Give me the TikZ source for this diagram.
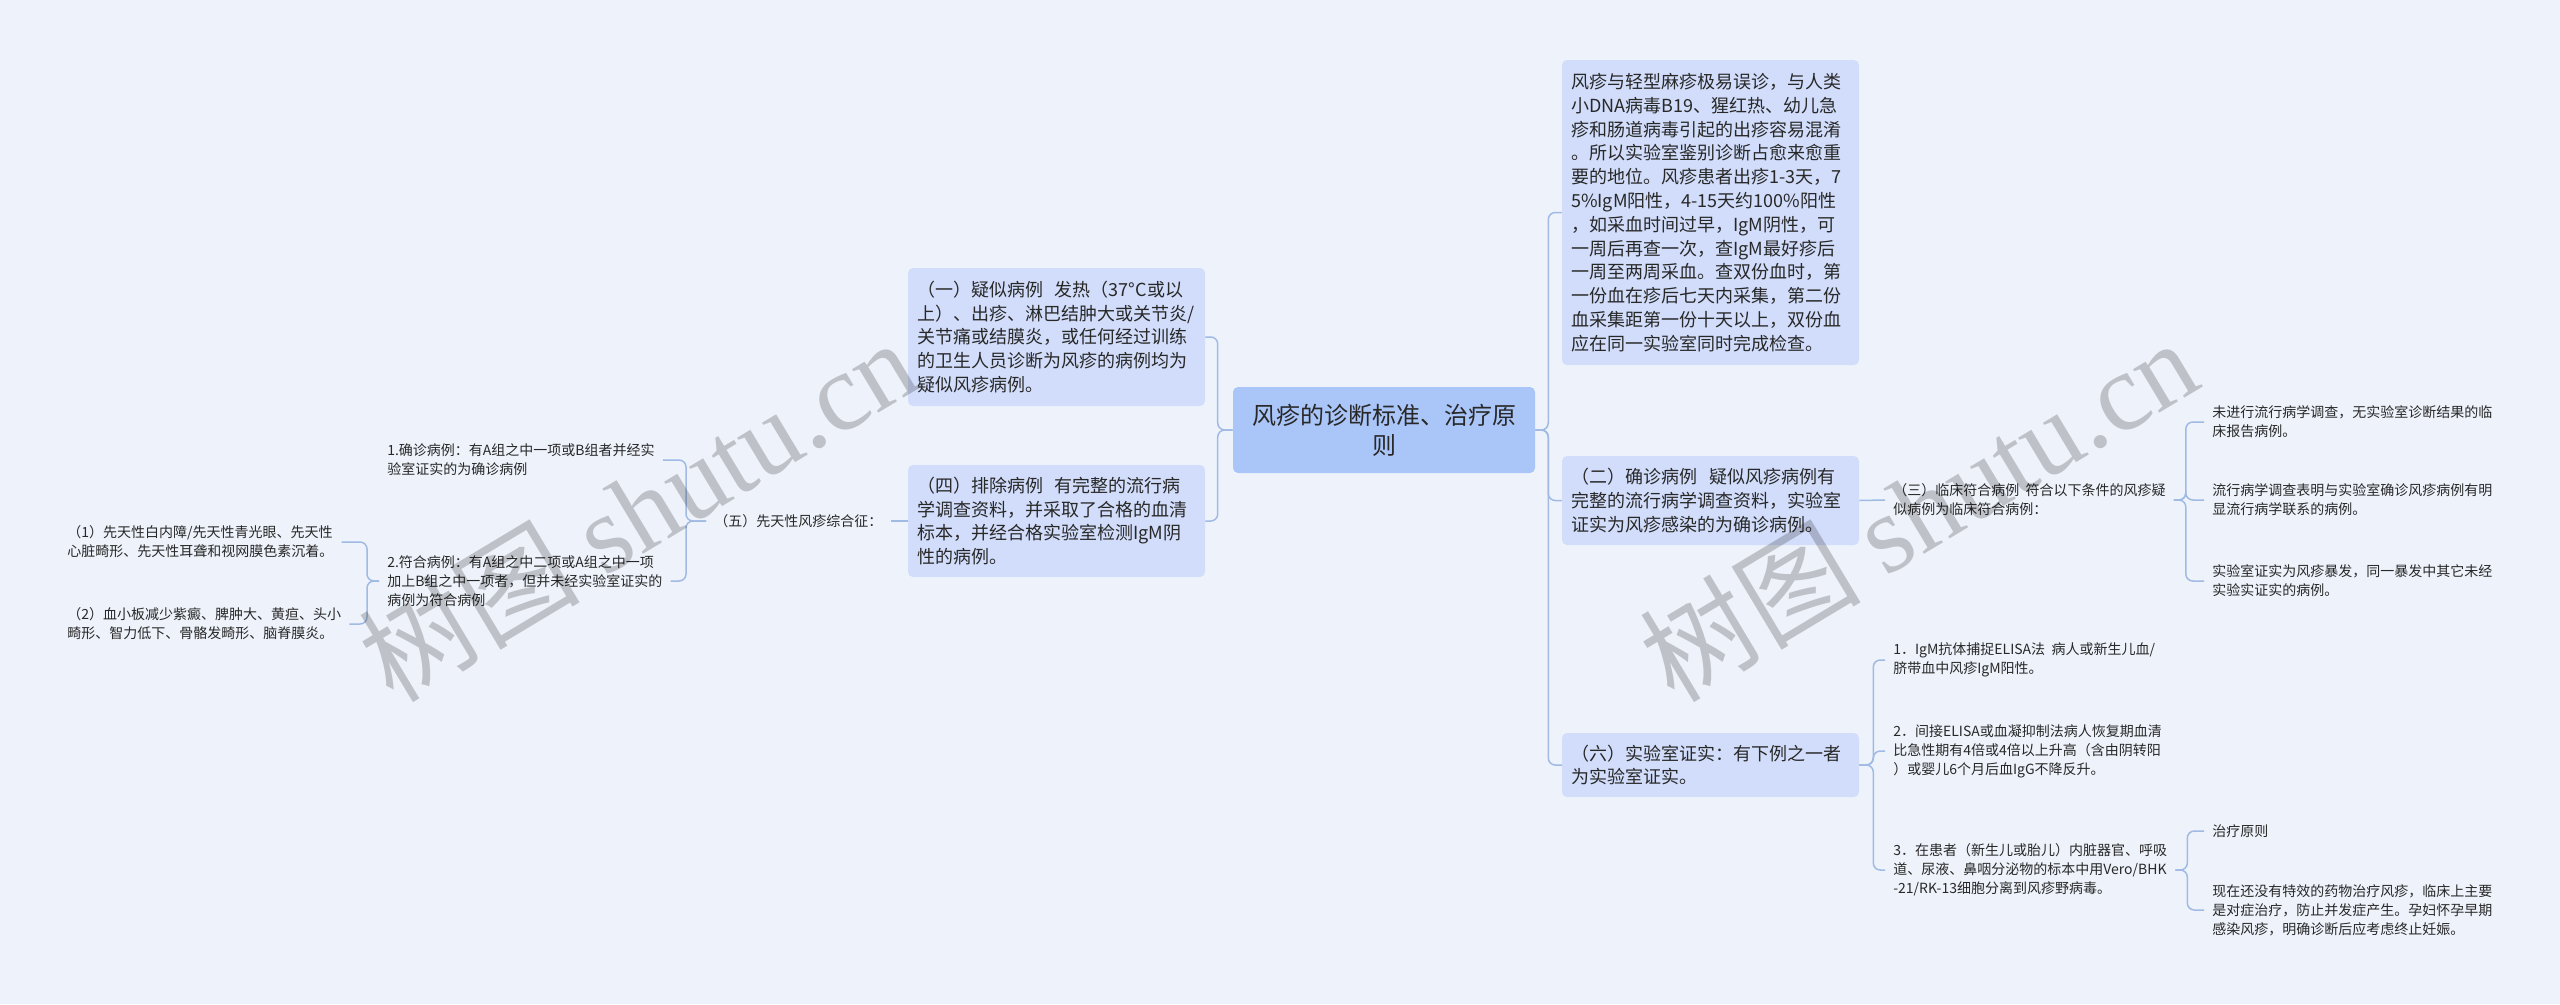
\documentclass[tikz,border=0pt]{standalone}
\usepackage{fontspec}
\setmainfont{Noto Sans CJK SC}
\newfontfamily\wmserif{Liberation Serif}
\newdimen\pxu \pxu=0.75pt
\definecolor{bgc}{RGB}{238,243,251}
\definecolor{rootc}{RGB}{170,197,248}
\definecolor{boxc}{RGB}{209,221,250}
\definecolor{linec}{RGB}{160,186,228}
\definecolor{txtc}{RGB}{40,40,40}
\tikzset{
  conn/.style={draw=linec, line width=1.5\pxu, rounded corners=7\pxu},
  rootbox/.style={fill=rootc, rounded corners=5\pxu, text width=280\pxu, align=center,
    minimum height=86\pxu, inner xsep=11\pxu, inner ysep=0pt,
    font=\fontsize{18pt}{22.5pt}\selectfont, text=txtc},
  bigbox/.style={fill=boxc, rounded corners=5\pxu, text width=279\pxu, align=left,
    inner xsep=9\pxu, inner ysep=0pt, font=\fontsize{13.5pt}{17.85pt}\selectfont, text=txtc},
  small/.style={anchor=west, align=left, inner xsep=8\pxu, inner ysep=2\pxu,
    font=\fontsize{10.5pt}{14.25pt}\selectfont, text=txtc},
  wm/.style={text=black, text opacity=0.2, font=\fontsize{83pt}{88pt}\selectfont, inner sep=0pt}
}
\begin{document}
\begin{tikzpicture}[x=0.75pt,y=-0.75pt]
\fill[bgc] (0,0) rectangle (2560,1004);
\useasboundingbox (0,0) rectangle (2560,1004);

% root and first level
\node[rootbox] (root) at (1384,430) {风疹的诊断标准、治疗原\\则};

\node[bigbox, minimum height=305\pxu] (A) at (1710.5,212.5) {风疹与轻型麻疹极易误诊，与人类\\
小DNA病毒B19、猩红热、幼儿急\\
疹和肠道病毒引起的出疹容易混淆\\
。所以实验室鉴别诊断占愈来愈重\\
要的地位。风疹患者出疹1-3天，7\\
5\%IgM阳性，4-15天约100\%阳性\\
，如采血时间过早，IgM阴性，可\\
一周后再查一次，查IgM最好疹后\\
一周至两周采血。查双份血时，第\\
一份血在疹后七天内采集，第二份\\
血采集距第一份十天以上，双份血\\
应在同一实验室同时完成检查。};

\node[bigbox, minimum height=89\pxu] (b2) at (1710.5,500.5) {（二）确诊病例~~疑似风疹病例有\\
完整的流行病学调查资料，实验室\\
证实为风疹感染的为确诊病例。};

\node[bigbox, minimum height=64\pxu] (b6) at (1710.5,765) {（六）实验室证实：有下例之一者\\
为实验室证实。};

\node[bigbox, minimum height=138\pxu] (b1) at (1056.5,337) {（一）疑似病例~~发热（37°C或以\\
上）、出疹、淋巴结肿大或关节炎/\\
关节痛或结膜炎，或任何经过训练\\
的卫生人员诊断为风疹的病例均为\\
疑似风疹病例。};

\node[bigbox, minimum height=112\pxu] (b4) at (1056.5,521) {（四）排除病例~~有完整的流行病\\
学调查资料，并采取了合格的血清\\
标本，并经合格实验室检测IgM阴\\
性的病例。};

% left side small nodes
\node[small] (wu) at (706,521) {（五）先天性风疹综合征：};
\node[small] (q1) at (379,460) {1.确诊病例：有A组之中一项或B组者并经实\\验室证实的为确诊病例};
\node[small] (q2) at (379,581) {2.符合病例：有A组之中二项或A组之中一项\\加上B组之中一项者，但并未经实验室证实的\\病例为符合病例};
\node[small] (c1) at (59,542) {（1）先天性白内障/先天性青光眼、先天性\\心脏畸形、先天性耳聋和视网膜色素沉着。};
\node[small] (c2) at (59,624) {（2）血小板减少紫癜、脾肿大、黄疸、头小\\畸形、智力低下、骨骼发畸形、脑脊膜炎。};

% right side small nodes
\node[small] (s3) at (1885,500) {（三）临床符合病例~~符合以下条件的风疹疑\\似病例为临床符合病例：};
\node[small] (r1) at (2204,422) {未进行流行病学调查，无实验室诊断结果的临\\床报告病例。};
\node[small] (r2) at (2204,500) {流行病学调查表明与实验室确诊风疹病例有明\\显流行病学联系的病例。};
\node[small] (r3) at (2204,581) {实验室证实为风疹暴发，同一暴发中其它未经\\实验实证实的病例。};
\node[small] (l1) at (1885,660) {1．IgM抗体捕捉ELISA法~~病人或新生儿血/\\脐带血中风疹IgM阳性。};
\node[small] (l2) at (1885,751) {2．间接ELISA或血凝抑制法病人恢复期血清\\比急性期有4倍或4倍以上升高（含由阴转阳\\）或婴儿6个月后血IgG不降反升。};
\node[small] (l3) at (1885,870) {3．在患者（新生儿或胎儿）内脏器官、呼吸\\道、尿液、鼻咽分泌物的标本中用Vero/BHK\\-21/RK-13细胞分离到风疹野病毒。};
\node[small] (t1) at (2204,831) {治疗原则};
\node[small] (t2) at (2204,910) {现在还没有特效的药物治疗风疹，临床上主要\\是对症治疗，防止并发症产生。孕妇怀孕早期\\感染风疹，明确诊断后应考虑终止妊娠。};

% connectors
\draw[conn] (root.west) -- ++(-15,0) |- (b1.east);
\draw[conn] (root.west) -- ++(-15,0) |- (b4.east);
\draw[conn] (root.east) -- ++(13,0) |- (A.west);
\draw[conn] (root.east) -- ++(13,0) |- (b2.west);
\draw[conn] (root.east) -- ++(13,0) |- (b6.west);
\draw[conn] (b4.west) -- (wu.east);
\draw[conn] (wu.west) -- ++(-20,0) |- (q1.east);
\draw[conn] (wu.west) -- ++(-20,0) |- (q2.east);
\draw[conn] (q2.west) -- ++(-12,0) |- (c1.east);
\draw[conn] (q2.west) -- ++(-12,0) |- (c2.east);
\draw[conn] (b2.east) -- (s3.west);
\draw[conn] (s3.east) -- ++(12,0) |- (r1.west);
\draw[conn] (s3.east) -- ++(12,0) |- (r2.west);
\draw[conn] (s3.east) -- ++(12,0) |- (r3.west);
\draw[conn] (b6.east) -- ++(14,0) |- (l1.west);
\draw[conn] (b6.east) -- ++(14,0) |- (l2.west);
\draw[conn] (b6.east) -- ++(14,0) |- (l3.west);
\draw[conn] (l3.east) -- ++(12,0) |- (t1.west);
\draw[conn] (l3.east) -- ++(12,0) |- (t2.west);

% watermarks
\node[wm, rotate=31] (wm1) at (637,509) {树图 {\wmserif shutu.cn}};
\node[wm, rotate=31] (wm2) at (1918,509) {树图 {\wmserif shutu.cn}};
\end{tikzpicture}
\end{document}
